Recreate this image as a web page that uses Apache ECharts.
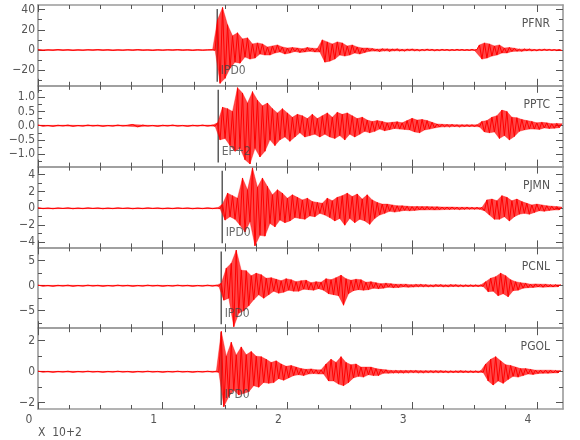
<!DOCTYPE html>
<html><head><meta charset="utf-8">
<script src="https://cdn.jsdelivr.net/npm/echarts@6/dist/echarts.min.js"></script>
<style>html,body{margin:0;padding:0;background:#fff}#c{width:580px;height:440px}</style>
</head><body><div id="c"></div>
<script>
// ---- data ----
const stations = ['PFNR', 'PPTC', 'PJMN', 'PCNL', 'PGOL'];
const pickTimes = [1.437, 1.445, 1.477, 1.469, 1.469];
const pickNames = ['IPD0', 'EP+2', 'IPD0', 'IPD0', 'IPD0'];
const yMin = [-35.4, -1.443, -4.64, -8.5, -2.41];
const yMax = [44.5, 1.407, 4.95, 7.66, 2.81];
const yLabelTicks = [[-20, 0, 20, 40], [-1, -0.5, 0, 0.5, 1], [-4, -2, 0, 2, 4], [-5, 0, 5], [-2, 0, 2]];
const yMinorTicks = [[-30, -10, 10, 30], [-1.25, -0.75, -0.25, 0.25, 0.75, 1.25], [-3, -1, 1, 3], [-7.5, -2.5, 2.5], [-1, 1]];
const yDecimals = [0, 1, 0, 0, 0];
const xMin = 0, xMax = 4.21;
const xLabelTicks = [0, 1, 2, 3, 4];
const xMinorTicks = [0.25, 0.5, 0.75, 1.25, 1.5, 1.75, 2.25, 2.5, 2.75, 3.25, 3.5, 3.75];
const xUnitLabel = 'X  10+2';

// sampling (x 10+2 s units)
const preStart = 0, preStep = 0.04;
const postStart = [1.40, 1.40, 1.44, 1.43, 1.43];
const postStep = 0.02;

const PFNR_pre = [0.3,-0.4,0.2,-0.3,0.4,-0.3,0.3,-0.4,0.2,-0.3, 0.3,-0.2,0.4,-0.3,0.3,-0.4,0.2,-0.3,0.3,-0.3,
  0.4,-0.3,0.2,-0.4,0.3,-0.3,0.3,-0.2,0.4,-0.3, 0.3,-0.4,0.3,-0.3,0.2];
const PFNR_post = [0.3,-0.3,
  30,-33,42,-28,25,-18,14,-12,17,-13,
  11,-7,12,-9,6,-8,7,-4,6,-5,
  3,-5,4,-3,5,-2,3,-4,2,-3,
  2.5,-1.5,2,-2.5,1.2,-2,2.5,-1.2,1.8,-2,
  1.5,-2,10,-12,8,-11,6,-9,8,-5,
  7,-6,4,-5,5,-3,3,-4,2,-2.5,
  2,-1.2,1.5,-1,0.8,-1.5,1.2,-0.8,1.1,-1.3,
  0.9,-0.7,1.1,-0.9,0.6,-1,0.8,-0.6,0.9,-0.7,
  0.6,-0.8,0.5,-0.6,0.8,-0.5,0.6,-0.7,0.4,-0.6,
  0.6,-0.4,0.5,-0.6,0.4,-0.5,0.6,-0.4,0.5,-0.5,
  0.4,-0.5,0.6,-0.4,0.5,5,-9,7,-8,6,
  -6,4,-5,5,-3,2,-3,2.5,-1.5,1.8,
  -1.2,0.8,-1.2,1,-0.7,0.9,-0.8,0.5,-0.7,0.6,
  -0.5,0.7,-0.4,0.6,-0.5,0.4,-0.6,0.4,-0.4];

const PPTC_pre = [0.02,-0.015,0.01,-0.02,0.015,-0.01,0.02,-0.02,0.01,-0.015, 0.02,-0.01,0.015,-0.02,0.01,-0.015,0.02,-0.01,0.015,0.04,
  -0.04,0.02,-0.015,0.01,-0.02,0.015,-0.01,0.02,-0.015,0.01, -0.02,0.015,-0.01,0.02,-0.015];
const PPTC_post = [0.02,-0.02,
  0.1,-0.5,0.65,-0.45,0.6,-0.7,0.5,-0.9,1.34,-0.8,
  1.15,-1.2,0.8,-1.35,1.2,-0.8,0.9,-1.1,0.7,-0.9,
  0.8,-0.5,0.6,-0.7,0.45,-0.5,0.6,-0.4,0.45,-0.55,
  0.3,-0.4,0.4,-0.25,0.35,-0.4,0.25,-0.35,0.4,-0.3,
  0.25,-0.4,0.35,-0.3,0.45,-0.4,0.3,-0.45,0.47,-0.35,
  0.4,-0.5,0.45,-0.3,0.35,-0.4,0.25,-0.3,0.3,-0.2,
  0.2,-0.25,0.15,-0.2,0.18,-0.12,0.15,-0.18,0.1,-0.14,
  0.12,-0.1,0.14,-0.12,0.1,-0.13,0.18,-0.15,0.26,-0.22,
  0.2,-0.25,0.22,-0.15,0.18,-0.12,0.12,-0.08,0.06,-0.05,
  0.05,-0.04,0.04,-0.04,0.04,-0.03,0.03,-0.04,0.03,-0.03,
  0.03,-0.03,0.03,-0.03,0.03,-0.04,0.15,-0.22,0.18,-0.25,
  0.3,-0.22,0.35,-0.45,0.55,-0.35,0.5,-0.5,0.3,-0.38,
  0.28,-0.2,0.22,-0.15,0.18,-0.12,0.15,-0.12,0.1,-0.13,
  0.12,-0.08,0.1,-0.1,0.07,-0.09,0.08,-0.07,0.07];

const PJMN_pre = [0.05,-0.04,0.03,-0.05,0.04,-0.03,0.05,-0.05,0.03,-0.04, 0.05,-0.03,0.04,-0.05,0.03,-0.04,0.05,-0.03,0.04,-0.05,
  0.03,-0.04,0.05,-0.03,0.04,-0.05,0.03,-0.04,0.05,-0.03, 0.04,-0.05,0.03,-0.04,0.05,-0.04];
const PJMN_post = [0.05,-0.05,
  0.5,-1.4,1.8,-1.0,1.5,-1.3,1.2,-2.0,3.6,-2.8,
  2.2,-1.6,4.8,-4.45,2.5,-3.2,3.6,-3.3,2.6,-1.8,
  1.6,-2.2,2.2,-1.4,1.8,-1.7,1.2,-1.5,1.6,-1.1,
  1.3,-1.2,1.0,-1.3,1.2,-0.9,0.8,-1.0,0.7,-0.6,
  0.6,-0.8,1.2,-1.1,0.9,-1.5,1.3,-1.2,1.5,-2.0,
  1.8,-1.2,1.4,-1.7,1.7,-1.3,1.1,-1.5,1.6,-1.9,
  1.0,-1.2,0.7,-0.8,0.5,-0.6,0.5,-0.35,0.4,-0.45,
  0.3,-0.35,0.3,-0.25,0.25,-0.3,0.2,-0.25,0.22,-0.2,
  0.2,-0.2,0.2,-0.18,0.18,-0.2,0.18,-0.18,0.15,-0.15,
  0.15,-0.15,0.15,-0.12,0.12,-0.15,0.12,-0.12,0.12,-0.1,
  0.1,-0.1,0.1,-0.1,0.1,-0.3,1.0,-0.8,1.1,-1.3,
  0.9,-1.3,1.5,-1.0,1.3,-1.5,0.9,-1.0,1.1,-0.7,
  0.8,-0.6,0.6,-0.7,0.4,-0.5,0.5,-0.3,0.4,-0.35,
  0.3,-0.25,0.25,-0.2,0.2,-0.2,0.15];

const PCNL_pre = [0.1,-0.08,0.06,-0.1,0.08,-0.06,0.1,-0.1,0.06,-0.08, 0.1,-0.06,0.08,-0.1,0.06,-0.08,0.1,-0.06,0.08,-0.1,
  0.06,-0.08,0.1,-0.06,0.08,-0.1,0.06,-0.08,0.1,-0.06, 0.08,-0.1,0.06,-0.08,0.1,-0.08];
const PCNL_post = [0.1,-0.1,
  0.5,-2.9,3.5,-2.5,4.5,-8.2,7.1,-5.5,3.1,-5.0,
  3.0,-4.0,2.0,-2.8,2.5,-1.8,2.2,-2.5,1.5,-1.8,
  1.6,-1.1,1.3,-1.5,1.0,-1.3,1.4,-0.9,1.2,-1.1,
  0.8,-1.1,1.0,-0.7,1.1,-0.8,0.6,-0.9,0.8,-0.6,
  0.7,-0.9,1.4,-1.6,1.2,-1.8,1.6,-2.0,2.1,-3.9,
  1.4,-1.6,1.1,-1.0,1.3,-0.8,1.2,-0.9,0.7,-0.8,
  0.8,-0.5,0.6,-0.6,0.4,-0.5,0.5,-0.3,0.4,-0.4,
  0.3,-0.35,0.3,-0.25,0.3,-0.3,0.2,-0.25,0.25,-0.2,
  0.25,-0.2,0.2,-0.2,0.15,-0.2,0.2,-0.15,0.2,-0.2,
  0.15,-0.2,0.2,-0.15,0.18,-0.18,0.15,-0.18,0.15,-0.15,
  0.15,-0.15,0.15,-0.15,0.15,-0.15,0.8,-1.2,1.5,-1.1,
  1.8,-2.0,2.5,-1.6,2.0,-2.2,1.2,-1.0,0.8,-0.9,
  0.6,-0.5,0.5,-0.4,0.3,-0.35,0.35,-0.25,0.3,-0.3,
  0.3,-0.25,0.2,-0.25,0.2,-0.2,0.2];

const PGOL_pre = [0.03,-0.02,0.02,-0.03,0.02,-0.02,0.03,-0.03,0.02,-0.02, 0.03,-0.02,0.02,-0.03,0.02,-0.02,0.03,-0.02,0.02,-0.03,
  0.02,-0.02,0.03,-0.02,0.02,-0.03,0.02,-0.02,0.03,-0.02, 0.02,-0.03,0.02,-0.02,0.03,-0.02];
const PGOL_post = [0.03,-0.03,
  2.6,-2.26,1.0,-1.6,1.9,-1.2,1.08,-1.5,1.6,-1.4,
  1.1,-1.3,1.3,-0.9,1.0,-1.0,0.97,-0.7,0.8,-0.75,
  0.6,-0.7,0.7,-0.45,0.5,-0.55,0.35,-0.4,0.4,-0.25,
  0.3,-0.2,0.2,-0.25,0.15,-0.15,0.18,-0.12,0.12,-0.15,
  0.12,-0.15,0.5,-0.6,0.8,-0.6,0.6,-0.8,0.97,-0.9,
  0.6,-0.7,0.45,-0.4,0.5,-0.3,0.3,-0.35,0.3,-0.2,
  0.3,-0.25,0.2,-0.25,0.15,-0.1,0.12,-0.1,0.08,-0.08,
  0.08,-0.08,0.07,-0.08,0.07,-0.07,0.07,-0.06,0.07,-0.07,
  0.06,-0.07,0.06,-0.06,0.06,-0.06,0.06,-0.06,0.06,-0.05,
  0.05,-0.06,0.05,-0.05,0.05,-0.05,0.06,-0.05,0.05,-0.05,
  0.05,-0.05,0.05,-0.05,0.05,-0.05,0.5,-0.6,0.8,-0.86,
  0.97,-0.6,0.7,-0.75,0.45,-0.5,0.4,-0.3,0.3,-0.35,
  0.2,-0.25,0.2,-0.15,0.15,-0.18,0.1,-0.12,0.1,-0.1,
  0.1,-0.1,0.1,-0.08,0.08,-0.08,0.08];

const preData = [PFNR_pre, PPTC_pre, PJMN_pre, PCNL_pre, PGOL_pre];
const postData = [PFNR_post, PPTC_post, PJMN_post, PCNL_post, PGOL_post];

// ---- chart ----
const FONT = "'Liberation Sans Narrow', 'DejaVu Sans Condensed', sans-serif";
const TXT = '#555';
const AXC = '#9a9a9a';
const TICKC = '#555';
const gridTop = 5, gridH = 80.8, gridLeft = 38, gridW = 525;

function toPairs(pre, post, t1) {
  const out = [];
  pre.forEach((v, i) => out.push([+(preStart + i * preStep).toFixed(3), v]));
  post.forEach((v, i) => out.push([+(t1 + i * postStep).toFixed(3), v]));
  return out;
}
function fmtY(d) { return v => v.toFixed(d).replace('-', '\u2212'); }

const grids = [], xAxes = [], yAxes = [], series = [], titles = [];
stations.forEach((name, i) => {
  grids.push({ left: gridLeft, width: gridW, top: gridTop + i * gridH, height: gridH });
  const last = i === stations.length - 1;
  const xbase = { type: 'value', gridIndex: i, min: xMin, max: xMax, splitLine: { show: false } };
  const axLine = { show: true, onZero: false, lineStyle: { color: AXC, width: 1.6 } };
  const noLine = { show: false, onZero: false };
  xAxes.push(Object.assign({}, xbase, {
    position: 'bottom', axisLine: axLine,
    axisTick: { show: true, inside: true, length: 4, customValues: xMinorTicks, lineStyle: { color: TICKC } },
    axisLabel: last ? { show: true, customValues: xLabelTicks, margin: 5, color: TXT, fontSize: 12, fontFamily: FONT,
      padding: [0, 18, 0, 0], formatter: v => String(v) } : { show: false }
  }));
  xAxes.push(Object.assign({}, xbase, {
    position: 'bottom', axisLine: noLine,
    axisTick: { show: true, inside: true, length: 7, customValues: xLabelTicks, lineStyle: { color: TICKC } },
    axisLabel: { show: false }
  }));
  xAxes.push(Object.assign({}, xbase, {
    position: 'top', axisLine: axLine,
    axisTick: { show: true, inside: true, length: 4, customValues: xMinorTicks, lineStyle: { color: TICKC } },
    axisLabel: { show: false }
  }));
  xAxes.push(Object.assign({}, xbase, {
    position: 'top', axisLine: noLine,
    axisTick: { show: true, inside: true, length: 7, customValues: xLabelTicks, lineStyle: { color: TICKC } },
    axisLabel: { show: false }
  }));
  const ybase = { type: 'value', gridIndex: i, min: yMin[i], max: yMax[i], splitLine: { show: false } };
  yAxes.push(Object.assign({}, ybase, {
    position: 'left', axisLine: axLine,
    axisTick: { show: true, inside: true, length: 7, customValues: yLabelTicks[i], lineStyle: { color: TICKC } },
    axisLabel: { show: true, customValues: yLabelTicks[i], margin: 3, color: TXT, fontSize: 12, fontFamily: FONT,
      formatter: fmtY(yDecimals[i]) }
  }));
  yAxes.push(Object.assign({}, ybase, {
    position: 'left', axisLine: noLine,
    axisTick: { show: true, inside: true, length: 4, customValues: yMinorTicks[i], lineStyle: { color: TICKC } },
    axisLabel: { show: false }
  }));
  yAxes.push(Object.assign({}, ybase, {
    position: 'right', axisLine: axLine,
    axisTick: { show: true, inside: true, length: 7, customValues: yLabelTicks[i], lineStyle: { color: TICKC } },
    axisLabel: { show: false }
  }));
  yAxes.push(Object.assign({}, ybase, {
    position: 'right', axisLine: noLine,
    axisTick: { show: true, inside: true, length: 4, customValues: yMinorTicks[i], lineStyle: { color: TICKC } },
    axisLabel: { show: false }
  }));

  const pairs = toPairs(preData[i], postData[i], postStart[i]);
  const upper = pairs.filter(p => p[1] >= 0);
  const lower = pairs.filter(p => p[1] < 0);
  const span = yMax[i] - yMin[i];

  // pick line (behind the trace)
  series.push({
    type: 'line', xAxisIndex: 4 * i, yAxisIndex: 4 * i,
    data: [[pickTimes[i], yMin[i] + 0.05 * span], [pickTimes[i], yMax[i] - 0.05 * span]],
    showSymbol: false, symbol: 'none', z: 2, animation: false, silent: true,
    lineStyle: { color: '#333', width: 1.2 }
  });
  // envelope band
  series.push({
    type: 'custom', xAxisIndex: 4 * i, yAxisIndex: 4 * i, z: 3, animation: false, silent: true,
    data: [[pairs[0][0], 0]],
    renderItem: (params, api) => {
      const pts = upper.map(p => api.coord(p)).concat(lower.slice().reverse().map(p => api.coord(p)));
      return { type: 'polygon', shape: { points: pts },
        style: { fill: 'rgba(255,0,0,0.72)', stroke: 'rgba(255,0,0,0.35)', lineWidth: 1 } };
    }
  });
  // trace
  series.push({
    type: 'line', xAxisIndex: 4 * i, yAxisIndex: 4 * i,
    data: pairs,
    showSymbol: false, symbol: 'none', sampling: null, clip: true, z: 4,
    lineStyle: { color: '#ff0000', width: 1 }, animation: false, silent: true
  });
  series.push({
    type: 'scatter', xAxisIndex: 4 * i, yAxisIndex: 4 * i,
    data: [[pickTimes[i], yMax[i] - 0.82 * span]],
    symbolSize: 1, itemStyle: { color: 'rgba(0,0,0,0)' }, z: 5, animation: false, silent: true,
    label: { show: true, position: 'right', distance: 3, formatter: pickNames[i], color: '#444', fontSize: 12, fontFamily: FONT }
  });
  titles.push({
    text: name, right: 30, top: gridTop + i * gridH + 13, padding: 0,
    textStyle: { fontSize: 12, fontWeight: 'normal', color: TXT, fontFamily: FONT }
  });
});

const chart = echarts.init(document.getElementById('c'), null, { renderer: 'canvas' });
chart.setOption({
  animation: false,
  backgroundColor: '#fff',
  title: titles,
  grid: grids,
  xAxis: xAxes,
  yAxis: yAxes,
  series: series,
  graphic: [{ type: 'text', left: gridLeft, top: 427,
    style: { text: xUnitLabel, fill: TXT, fontSize: 12, fontFamily: FONT } }]
});
</script>
</body></html>
